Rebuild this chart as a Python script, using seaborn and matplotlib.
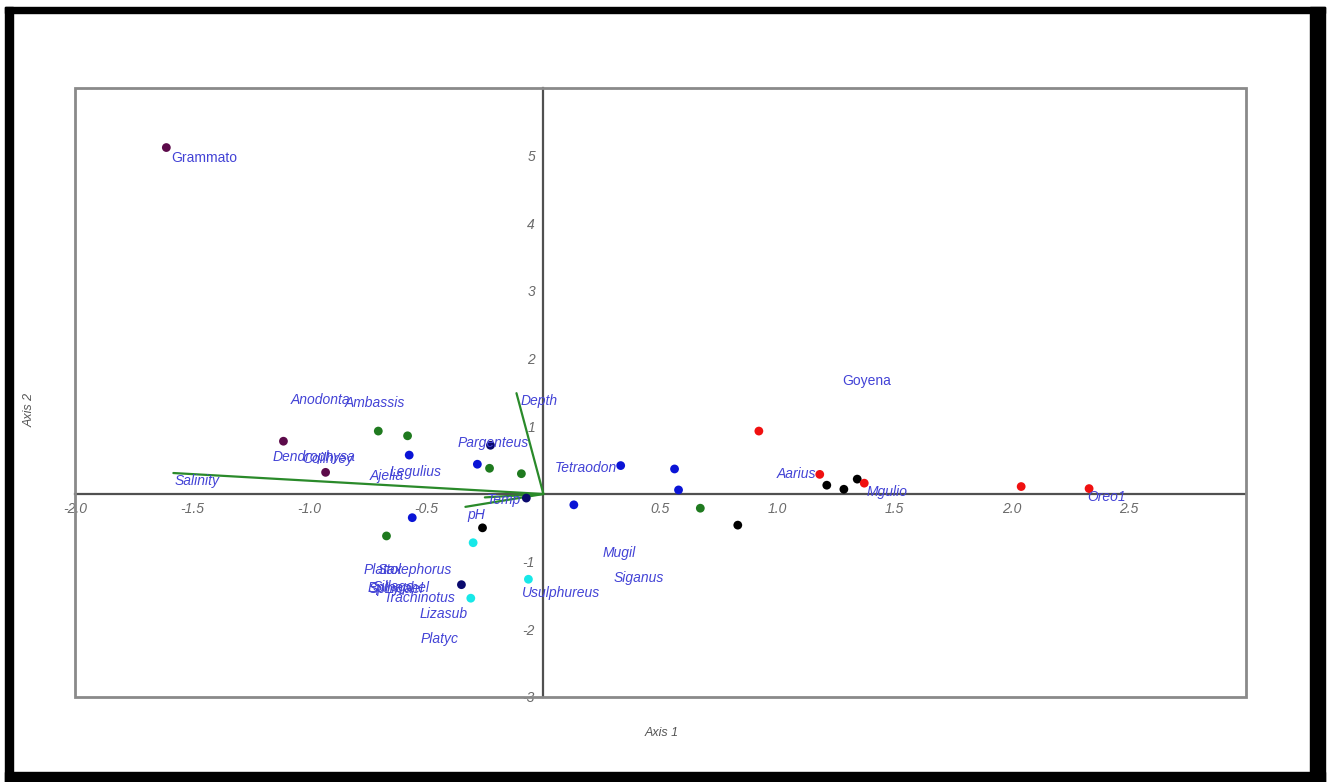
import numpy as np
import pandas as pd
import seaborn as sns
import matplotlib.pyplot as plt
from matplotlib.patches import Rectangle
from matplotlib.ticker import MultipleLocator, FuncFormatter

# Site scores on the two ordination axes, with their group
site_x = [-1.61, -1.11, -0.93,
          -0.705, -0.58, -0.23, -0.094, -0.67, 0.67,
          -0.573, -0.282, 0.13, -0.56, 0.33, 0.56, 0.577,
          -0.226, -0.073, -0.35,
          -0.26, 0.83, 1.21, 1.283, 1.34,
          -0.30, -0.31, -0.064,
          0.92, 1.18, 1.37, 2.04, 2.33]
site_y = [5.12, 0.78, 0.32,
          0.93, 0.86, 0.38, 0.30, -0.62, -0.21,
          0.575, 0.44, -0.16, -0.35, 0.42, 0.37, 0.06,
          0.72, -0.06, -1.34,
          -0.5, -0.46, 0.13, 0.07, 0.22,
          -0.72, -1.54, -1.26,
          0.93, 0.29, 0.16, 0.11, 0.08]
site_group = (['G1'] * 3 + ['G2'] * 6 + ['G3'] * 7 + ['G4'] * 3
              + ['G5'] * 5 + ['G6'] * 3 + ['G7'] * 5)

group_colors = {'G1': '#5c0a4a', 'G2': '#1f7a1f', 'G3': '#0a14d6',
                'G4': '#0a0a6e', 'G5': '#000000', 'G6': '#17e8e8',
                'G7': '#f01010'}

# Species labels
species_names = ['Grammato', 'Goyena', 'Anodonta', 'Ambassis', 'Pargenteus',
                 'Dendrophysa', 'Coilhrey', 'Ajelia', 'Legulius', 'Tetraodon',
                 'Aarius', 'Mgulio', 'Oreo1', 'Mugil', 'Siganus', 'Usulphureus',
                 'Platax', 'Stolephorus', 'Epinephel', 'Sphyrael', 'Sillago',
                 'Trachinotus', 'Lizasub', 'Platyc']
species_x = [-1.449, 1.38, -0.953, -0.718, -0.214,
             -0.98, -0.92, -0.667, -0.547, 0.18,
             1.08, 1.466, 2.406, 0.325, 0.406, 0.077,
             -0.684, -0.551, -0.62, -0.63, -0.64,
             -0.53, -0.427, -0.444]
species_y = [4.97, 1.67, 1.39, 1.34, 0.75,
             0.55, 0.52, 0.27, 0.33, 0.39,
             0.29, 0.03, -0.04, -0.87, -1.24, -1.47,
             -1.12, -1.12, -1.39, -1.40, -1.38,
             -1.53, -1.78, -2.15]
upright_names = ['Grammato', 'Goyena']

# Environmental vectors (arrow tip) and where their names sit
env_names = ['Salinity', 'Depth', 'Temp', 'pH']
env_x = [-1.58, -0.115, -0.25, -0.333]
env_y = [0.31, 1.49, -0.05, -0.19]
env_label_x = [-1.48, -0.02, -0.17, -0.286]
env_label_y = [0.19, 1.37, -0.09, -0.31]

sites = pd.DataFrame({'Axis 1': site_x, 'Axis 2': site_y, 'group': site_group})

sns.set_style('white')
plt.rcParams['font.family'] = ['Liberation Sans', 'DejaVu Sans']

fig = plt.figure(figsize=(13.31, 7.82), dpi=100)
ax = fig.add_axes([75 / 1331, 1 - 697 / 782, (1246 - 75) / 1331, (697 - 88) / 782])

label_color = '#4343d6'
for name, x0, y0 in zip(env_names, env_x, env_y):
    ax.plot([0, x0], [0, y0], color='#2a8a2a', lw=1.6, zorder=3)

sns.scatterplot(data=sites, x='Axis 1', y='Axis 2', hue='group', palette=group_colors,
                s=40, edgecolor='none', legend=False, ax=ax, zorder=4)

for name, x0, y0 in zip(species_names, species_x, species_y):
    ax.text(x0, y0, name, color=label_color, fontsize=10, ha='center', va='center',
            style='normal' if name in upright_names else 'italic', zorder=5)
for name, x0, y0 in zip(env_names, env_label_x, env_label_y):
    ax.text(x0, y0, name, color=label_color, fontsize=10, ha='center', va='center',
            style='italic', zorder=5)

ax.set_xlim(-2, 3)
ax.set_ylim(-3, 6)
ax.set_xlabel('')
ax.set_ylabel('')

# axes through the origin, frame drawn separately
ax.spines['left'].set_position(('data', 0))
ax.spines['bottom'].set_position(('data', 0))
ax.spines['top'].set_visible(False)
ax.spines['right'].set_visible(False)
for side in ['left', 'bottom']:
    ax.spines[side].set_color('#505050')
    ax.spines[side].set_linewidth(1.6)
    ax.spines[side].set_zorder(2)
ax.add_patch(Rectangle((0, 0), 1, 1, transform=ax.transAxes, fill=False,
                       edgecolor='#8a8a8a', lw=2, clip_on=False, zorder=6))

ax.set_xticks(np.arange(-2, 2.51, 0.5))
ax.set_yticks(np.arange(-3, 5.1, 1))
ax.xaxis.set_major_formatter(FuncFormatter(lambda v, p: '' if abs(v) < 1e-9 else f'{v:.1f}'))
ax.yaxis.set_major_formatter(FuncFormatter(lambda v, p: '' if abs(v) < 1e-9 else f'{v:.0f}'))
ax.xaxis.set_minor_locator(MultipleLocator(1))
ax.yaxis.set_minor_locator(MultipleLocator(1))
ax.tick_params(axis='both', which='major', direction='out', length=4, width=1,
               color='#505050', labelsize=10, labelcolor='#6a6a6a', pad=2)
ax.tick_params(axis='both', which='minor', length=0)
for lab in ax.get_xticklabels() + ax.get_yticklabels():
    lab.set_style('italic')
ax.grid(False)
ax.grid(which='minor', color='#c8c8c8', linestyle=(0, (2, 2)), lw=0.9)
ax.set_axisbelow(True)

fig.text(30 / 1331, 1 - 410 / 782, 'Axis 2', rotation=90, ha='center', va='center',
         fontsize=9, style='italic', color='#555555')
fig.text(662 / 1331, 1 - 733 / 782, 'Axis 1', ha='center', va='center',
         fontsize=9, style='italic', color='#555555')

# black picture border
W, H = 1331, 782
for (px, py, pw, ph) in [(5, 7, 8, 775), (5, 7, 1320, 6), (1310, 7, 15, 775), (5, 772, 1320, 10)]:
    fig.patches.append(Rectangle((px / W, 1 - (py + ph) / H), pw / W, ph / H,
                                 transform=fig.transFigure, color='black', zorder=10))

fig.savefig('out.png', dpi=100)
